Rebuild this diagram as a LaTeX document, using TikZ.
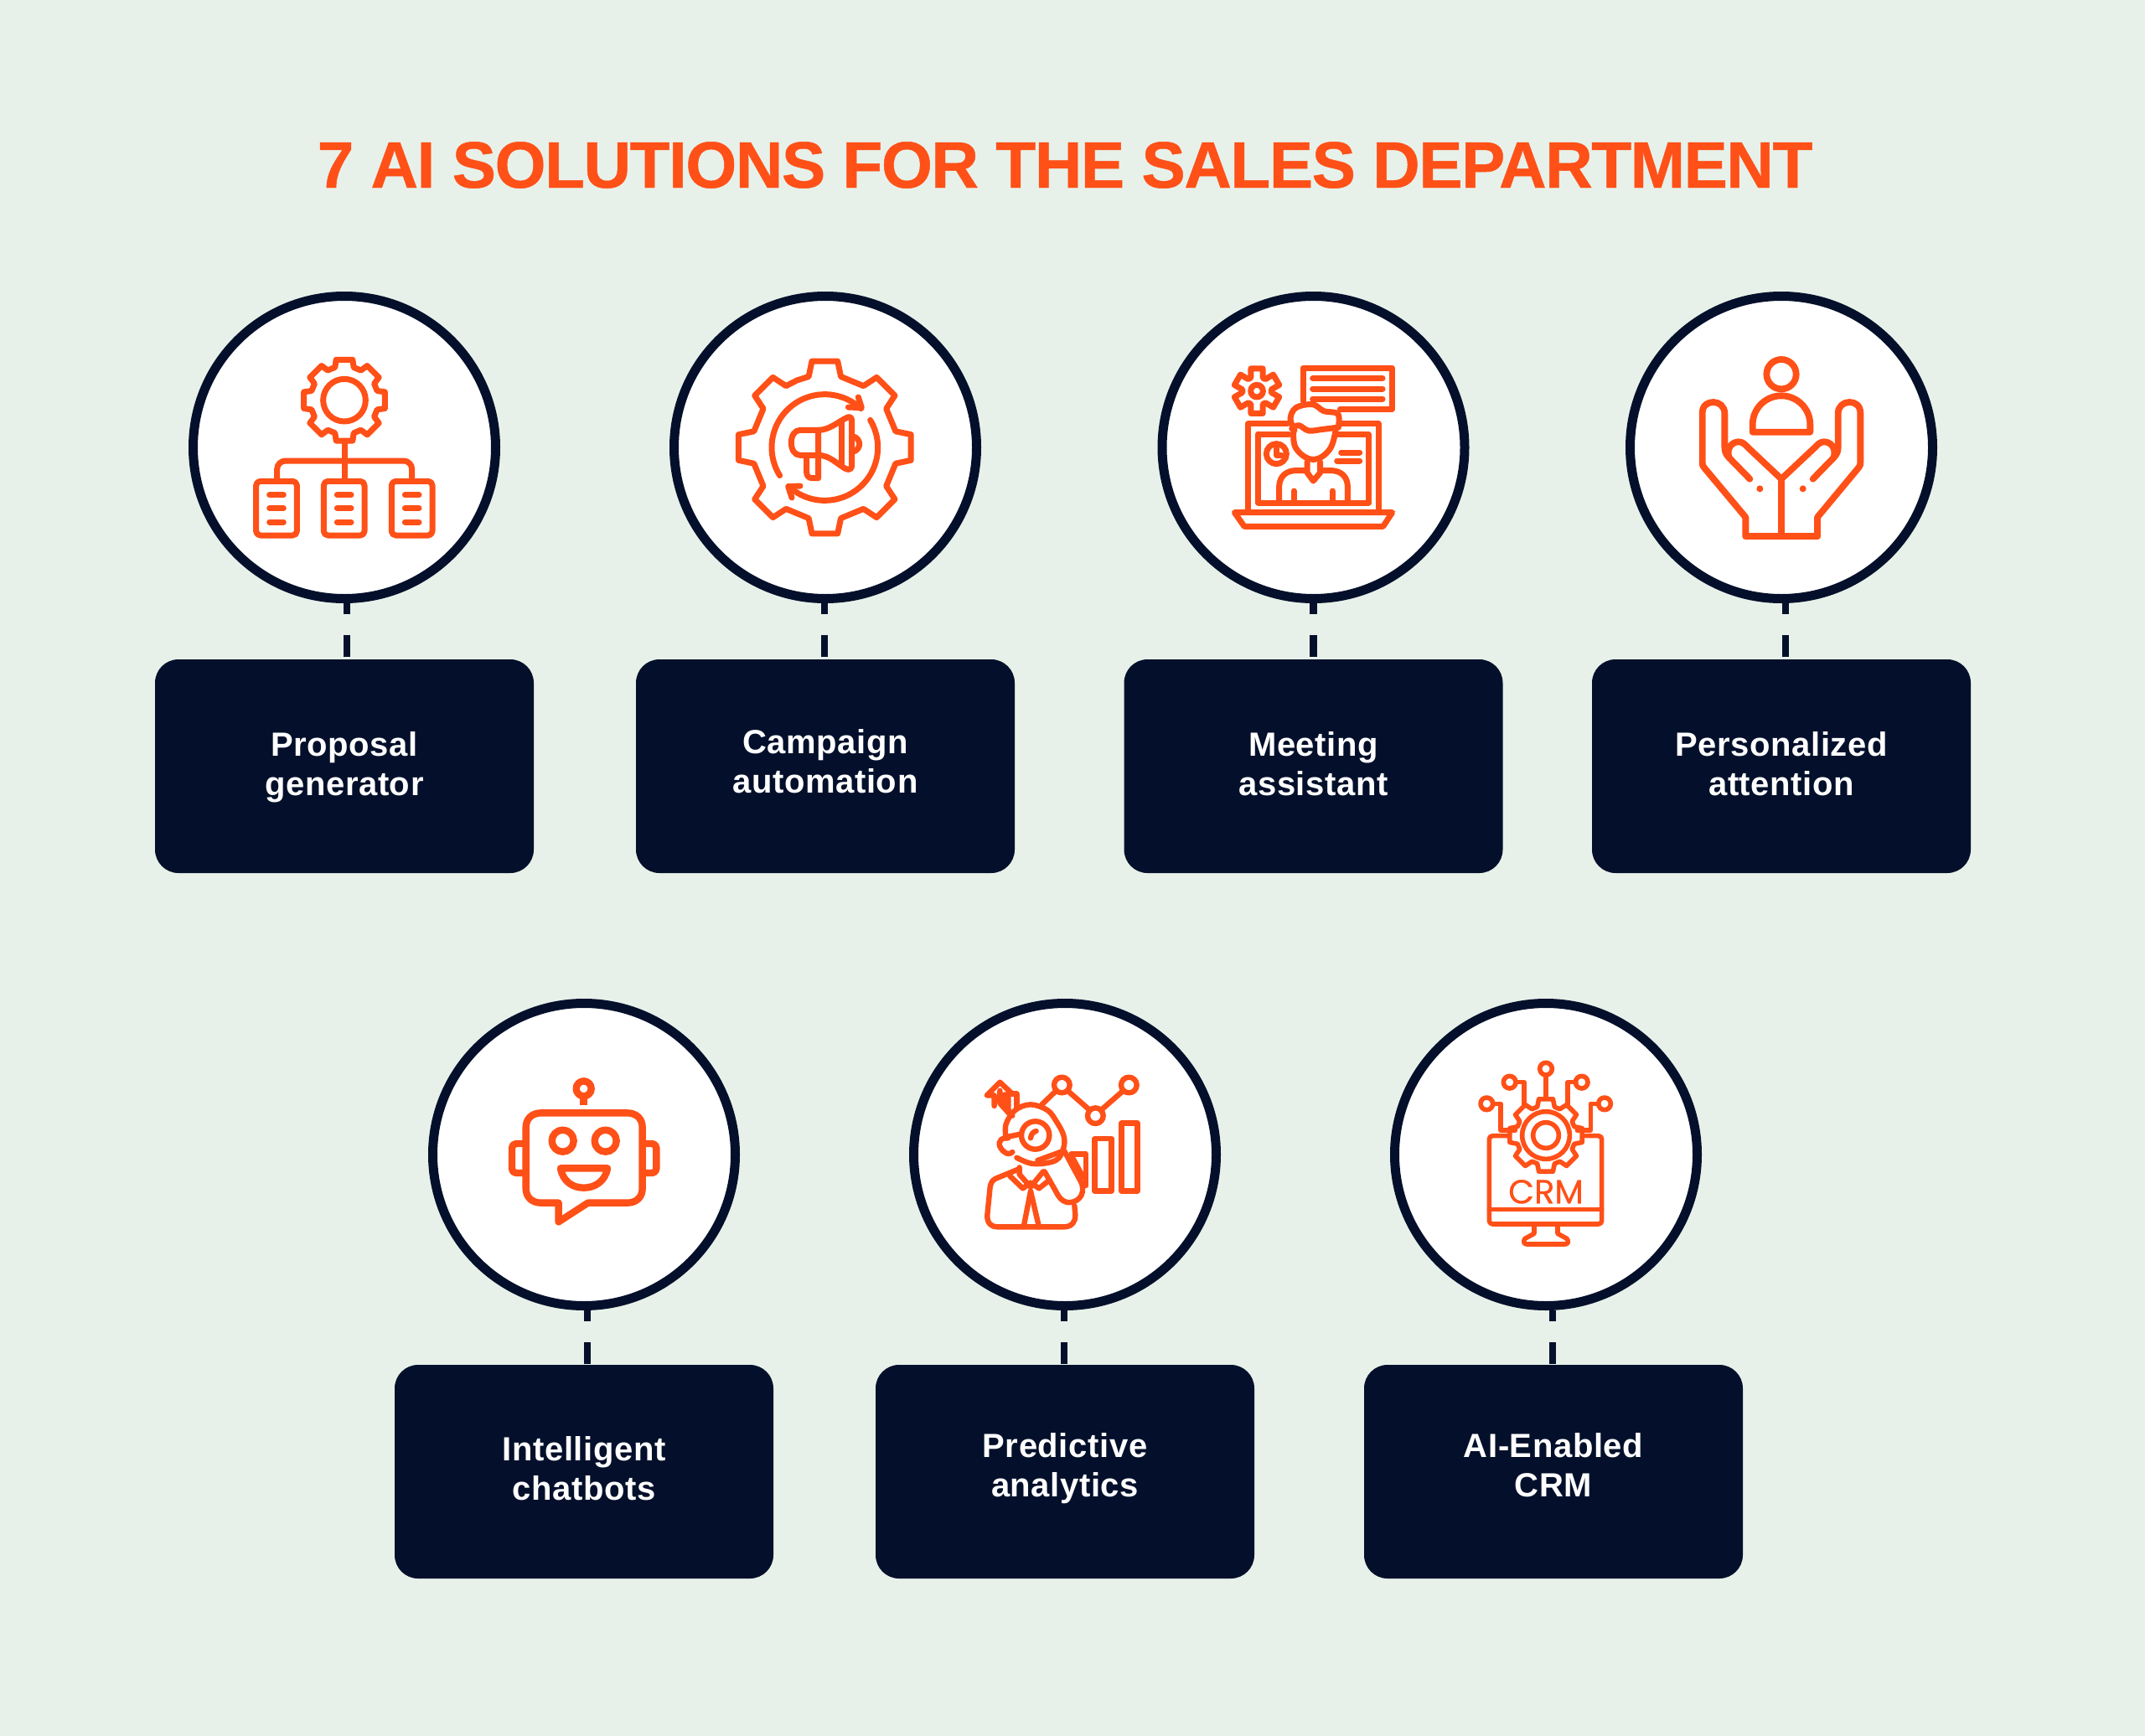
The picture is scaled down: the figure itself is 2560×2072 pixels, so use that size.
\documentclass[tikz,border=0pt]{standalone}
\usepackage{fontspec}
\setmainfont{Liberation Sans}
\newfontfamily\crmfont[FakeBold=0.6]{Poppins}
\newfontfamily\titlefont[LetterSpace=-1.9,FakeBold=0.6]{Liberation Sans}
\newfontfamily\labelfont[LetterSpace=1.5]{Liberation Sans}
\definecolor{navy}{HTML}{04102B}
\definecolor{accent}{HTML}{FF5018}
\definecolor{paper}{HTML}{E7F1E9}
\tikzset{
  circ/.style={circle,draw=navy,fill=white,line width=5.5pt,minimum size=180.5pt,inner sep=0pt},
  lbox/.style={rectangle,fill=navy,rounded corners=14pt,minimum width=226pt,minimum height=127.5pt,inner sep=0pt,outer sep=0pt},
  lbl/.style={text=white,align=center,inner sep=0pt,font=\labelfont\fontsize{20}{23.5}\selectfont\bfseries},
  conn/.style={draw=navy,line width=4.35pt,dash pattern=on 6.5pt off 12.5pt on 13pt off 100pt},
  crop/.style 2 args={shift={(#1*0.5pt,-#2*0.5pt)},x=0.166667pt,y=-0.166667pt},
  ic/.style={color=accent,line width=3.5pt,line join=round,line cap=round},
}
\newcommand\gearshape[8]{% cx cy Ro Ri n halfOuter halfBase start
  \draw ({#1+#4*cos(#8-180/#5)},{#2+#4*sin(#8-180/#5)})
    \foreach \i in {1,...,#5}{
      -- ({#1+#4*cos(#8+(\i-1)*360/#5-#7)},{#2+#4*sin(#8+(\i-1)*360/#5-#7)})
      -- ({#1+#3*cos(#8+(\i-1)*360/#5-#6)},{#2+#3*sin(#8+(\i-1)*360/#5-#6)})
      -- ({#1+#3*cos(#8+(\i-1)*360/#5+#6)},{#2+#3*sin(#8+(\i-1)*360/#5+#6)})
      -- ({#1+#4*cos(#8+(\i-1)*360/#5+#7)},{#2+#4*sin(#8+(\i-1)*360/#5+#7)})
    } -- cycle;
}
\newcommand\sarc[5]{plot[domain=#4:#5,samples=50] ({#1+#3*cos(\x)},{#2+#3*sin(\x)})}
\newcommand\twolines[2]{\rule[-6pt]{0pt}{12pt}#1\\\rule[-6pt]{0pt}{12pt}#2}
\begin{document}
\begin{tikzpicture}[x=0.5pt,y=-0.5pt]
\useasboundingbox (0,0) rectangle (2560,2072);
\fill[paper] (0,0) rectangle (2560,2072);
% title
\node[text=accent,inner sep=0pt,anchor=base,font=\titlefont\fontsize{39.2}{44}\selectfont\bfseries] (title) at (1271,224) {7 AI SOLUTIONS FOR THE SALES DEPARTMENT};
% circles
\node[circ] (c1) at (411,534) {};
\node[circ] (c2) at (985,534) {};
\node[circ] (c3) at (1567.5,534) {};
\node[circ] (c4) at (2126,534) {};
\node[circ] (c5) at (697,1378) {};
\node[circ] (c6) at (1271,1378) {};
\node[circ] (c7) at (1845,1378) {};
% boxes
\node[lbox] (b1) at (411,914.5) {};
\node[lbox] (b2) at (985,914.5) {};
\node[lbox] (b3) at (1567.5,914.5) {};
\node[lbox] (b4) at (2126,914.5) {};
\node[lbox] (b5) at (697,1756.5) {};
\node[lbox] (b6) at (1271,1756.5) {};
\node[lbox] (b7) at (1854,1756.5) {};
% labels
\node[lbl] (l1) at (411,917.5) {\twolines{Proposal}{generator}};
\node[lbl] (l2) at (985,914.1) {\twolines{Campaign}{automation}};
\node[lbl] (l3) at (1567.5,917.5) {\twolines{Meeting}{assistant}};
\node[lbl] (l4) at (2126,917.5) {\twolines{Personalized}{attention}};
\node[lbl] (l5) at (697,1758.2) {\twolines{Intelligent}{chatbots}};
\node[lbl] (l6) at (1271,1754.9) {\twolines{Predictive}{analytics}};
\node[lbl] (l7) at (1854,1754.9) {\twolines{AI-Enabled}{CRM}};
% connectors
\draw[conn] ([xshift=1.5pt]c1.south) -- ([xshift=1.5pt]c1.south |- b1.north);
\draw[conn] ([xshift=-0.5pt]c2.south) -- ([xshift=-0.5pt]c2.south |- b2.north);
\draw[conn] (c3.south) -- (c3.south |- b3.north);
\draw[conn] ([xshift=2.5pt]c4.south) -- ([xshift=2.5pt]c4.south |- b4.north);
\draw[conn] ([xshift=2pt]c5.south) -- ([xshift=2pt]c5.south |- b5.north);
\draw[conn] ([xshift=-0.5pt]c6.south) -- ([xshift=-0.5pt]c6.south |- b6.north);
\draw[conn] ([xshift=4pt]c7.south) -- ([xshift=4pt]c7.south |- b7.north);

% ---------- icon 1
\begin{scope}[crop={210}{340},ic]
\gearshape{603}{413}{148}{122}{8}{11.5}{16}{270}
\draw (603,413) circle[radius=76];
\draw (603,565) -- (603,703);
\draw[rounded corners=5pt] (362,703) -- (362,630) -- (845,630) -- (845,703);
\foreach \xa in {287,529,772}{
  \draw[rounded corners=2.5pt] (\xa,703) rectangle ++(146,194);
  \foreach \yy in {752,800,849}{\draw ({\xa+48},\yy) -- ({\xa+98},\yy);}
}
\end{scope}

% ---------- icon 2
\begin{scope}[crop={785}{340},ic]
\gearshape{598}{582}{312}{260}{8}{8.5}{12.8}{270}
\draw \sarc{598}{582}{190}{148}{313};
\draw (718,402) -- (730,440) -- (682,438);
\draw \sarc{598}{582}{190}{-31}{133};
\draw (480,762) -- (467,722) -- (510,720);
\draw (575,610) -- (510,610) .. controls (490,610) and (478,590) .. (478,565) .. controls (478,540) and (490,520) .. (510,520) -- (575,520) .. controls (615,520) and (645,490) .. (680,474) .. controls (690,470) and (695,478) .. (695,488) -- (695,645) .. controls (695,660) and (685,665) .. (672,658) .. controls (640,640) and (615,610) .. (575,610);
\draw (575,520) -- (575,692) -- (552,692) .. controls (540,692) and (533,682) .. (533,672) -- (533,615);
\draw (658,490) -- (658,645);
\draw (697,542) .. controls (715,545) and (722,560) .. (722,570) .. controls (722,580) and (715,595) .. (697,598);
\end{scope}

% ---------- icon 3
\begin{scope}[crop={1370}{340},ic]
\gearshape{390}{380}{83}{52}{6}{15}{24}{270}
\draw (390,380) circle[radius=22];
\draw (555,415) -- (555,298) -- (875,298) -- (875,445) -- (688,445);
\foreach \yy in {335,372,408}{\draw (590,\yy) -- (840,\yy);}
\draw (358,810) -- (358,497) -- (500,497);
\draw (690,497) -- (825,497) -- (825,810);
\draw (395,535) -- (395,780) -- (790,780) -- (790,535) -- (675,535);
\draw (395,535) -- (505,535);
\draw (310,815) -- (875,815) -- (842,865) -- (345,865) -- cycle;
\draw plot[smooth,tension=0.6] coordinates {(525,520) (510,480) (530,440) (590,428) (630,452) (680,462) (682,510)};
\draw plot[smooth,tension=0.6] coordinates {(515,515) (540,503) (575,522) (620,518) (682,510)};
\draw plot[smooth,tension=0.7] coordinates {(522,520) (530,585) (590,625) (650,590) (672,520)};
\draw (570,635) -- (570,672) -- (592,702) -- (617,672) -- (617,635);
\draw (470,775) -- (470,720) .. controls (472,685) and (495,667) .. (525,665) -- (568,665);
\draw (618,665) -- (660,665) .. controls (695,667) and (714,690) .. (715,720) -- (715,775);
\draw (523,738) -- (523,775);
\draw (660,738) -- (660,775);
\draw (460,605) circle[radius=36];
\draw (460,585) -- (460,610) -- (478,610);
\draw (692,600) -- (758,600);
\draw (677,630) -- (758,630);
\end{scope}

% ---------- icon 4
\begin{scope}[crop={1930}{340},ic,line width=3.9pt]
\draw (588,320) circle[radius=53];
\draw (485,527) -- (485,500) -- plot[domain=180:360,samples=50] ({588+103*cos(\x)},{500+103*sin(\x)}) -- (691,527) -- cycle;
\draw (588,690) -- (588,900);
\draw (460,900) -- (717,900);
% left hand
\draw (460,900) -- (460,832) -- (312,655) .. controls (306,648) and (305,645) .. (305,635) -- (305,460) .. controls (305,430) and (325,420) .. (345,420) .. controls (365,420) and (385,435) .. (385,460) -- (385,580) .. controls (385,595) and (388,605) .. (400,618) -- (475,695);
\draw (400,618) .. controls (390,580) and (415,562) .. (435,562) .. controls (450,562) and (458,572) .. (468,582) -- (588,695);
% right hand
\draw (717,900) -- (717,832) -- (864,655) .. controls (870,648) and (871,645) .. (871,635) -- (871,460) .. controls (871,430) and (851,420) .. (831,420) .. controls (811,420) and (791,435) .. (791,460) -- (791,580) .. controls (791,595) and (788,605) .. (776,618) -- (701,695);
\draw (776,618) .. controls (786,580) and (761,562) .. (741,562) .. controls (726,562) and (718,572) .. (708,582) -- (588,695);
\fill (511,730) circle[radius=12];
\fill (665,730) circle[radius=12];
\end{scope}

% ---------- icon 5
\begin{scope}[crop={495}{1185},ic,line width=4.2pt,line cap=butt]
\draw (605,343) circle[radius=27];
\draw (605,372) -- (605,403);
\draw (620,752) -- (760,752) .. controls (795,752) and (815,730) .. (815,700) -- (815,482) .. controls (815,452) and (795,430) .. (760,430) -- (453,430) .. controls (418,430) and (398,452) .. (398,482) -- (398,700) .. controls (398,730) and (418,752) .. (453,752) -- (515,752) -- (515,820) -- cycle;
\draw[rounded corners=2.5pt] (398,540) -- (348,540) -- (348,645) -- (398,645);
\draw[rounded corners=2.5pt] (815,540) -- (865,540) -- (865,645) -- (815,645);
\draw (530,530) circle[radius=39];
\draw (683,530) circle[radius=39];
\draw (522,628) -- (690,628) .. controls (682,675) and (645,698) .. (605,698) .. controls (565,698) and (530,675) .. (522,628) -- cycle;
\end{scope}

% ---------- icon 6
\begin{scope}[crop={1070}{1185},ic,line width=3.2pt]
\draw (592,330) circle[radius=28];
\draw (712,440) circle[radius=28];
\draw (832,330) circle[radius=28];
\draw (520,400) -- (572,350);
\draw (612,350) -- (692,420);
\draw (732,420) -- (812,350);
\draw (710,522) rectangle (770,710);
\draw (805,467) rectangle (862,710);
\draw (625,577) -- (678,577) -- (678,690);
\draw (630,590) -- (668,660);
\draw (350,405) -- (350,367) -- (323,367) -- (370,320) -- (415,362) -- (385,365) -- (385,400);
\draw (415,362) -- (430,362) -- (430,410);
\draw (400,375) -- (400,420) -- (415,440);
\draw (370,350) -- (370,395) -- (410,440);
\draw plot[smooth,tension=0.6] coordinates {(392,520) (392,470) (425,420) (480,400) (540,420) (572,460) (598,510) (598,555) (570,600) (490,612) (430,590)};
\draw plot[smooth,tension=0.8] coordinates {(400,520) (375,525) (370,550) (395,575) (415,570)};
\draw (497,510) circle[radius=50];
\draw (480,520) .. controls (482,505) and (490,497) .. (500,495);
\draw (400,515) -- (447,505);
\draw (505,600) -- (600,565) -- (662,680) .. controls (680,730) and (640,755) .. (610,750) .. controls (590,745) and (580,730) .. (570,710) -- (530,640);
\draw (440,630) -- (355,665) .. controls (340,672) and (337,685) .. (335,695) -- (325,795) .. controls (323,825) and (340,838) .. (360,838) -- (600,838) .. controls (630,838) and (642,815) .. (640,795) -- (637,762);
\draw (405,655) -- (452,700) -- (480,680) -- (510,700) -- (548,670);
\draw (440,625) -- (440,650) -- (480,695) -- (525,640);
\draw (480,710) -- (455,838);
\draw (480,710) -- (510,838);
\end{scope}

% ---------- icon 7
\begin{scope}[crop={1645}{1185},ic,line width=2.8pt]
\gearshape{600}{510}{132}{106}{8}{11}{17}{270}
\draw (600,510) circle[radius=85];
\draw (600,510) circle[radius=46];
\draw[rounded corners=2pt] (465,512) -- (397,512) -- (397,828) -- (800,828) -- (800,512) -- (742,512);
\draw (397,775) -- (800,775);
\draw (558,830) -- (558,862) -- (525,880) .. controls (518,890) and (520,900) .. (532,900) -- (668,900) .. controls (680,900) and (682,890) .. (675,880) -- (642,862) -- (642,830);
\node[inner sep=0pt,font=\crmfont\fontsize{20}{20}\selectfont] (crm) at (600,712) {CRM};
\draw (600,378) -- (600,295);
\draw (600,272) circle[radius=22];
\draw (522,405) -- (522,320) -- (492,320);
\draw (470,320) circle[radius=22];
\draw (678,405) -- (678,320) -- (708,320);
\draw (728,320) circle[radius=22];
\draw (490,492) -- (438,492) -- (438,397) -- (410,397);
\draw (388,397) circle[radius=22];
\draw (712,492) -- (760,492) -- (760,397) -- (788,397);
\draw (810,397) circle[radius=22];
\end{scope}
\end{tikzpicture}
\end{document}
